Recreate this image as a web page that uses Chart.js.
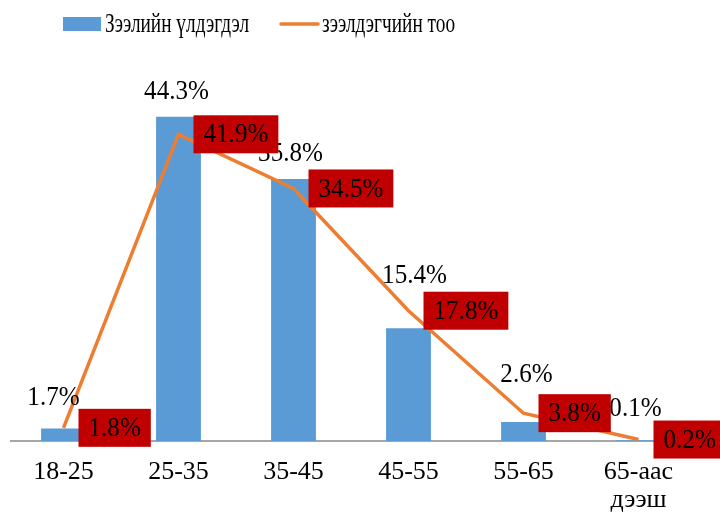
<!DOCTYPE html>
<html><head><meta charset="utf-8">
<script src="https://cdn.jsdelivr.net/npm/chart.js@4"></script>
<style>html,body{margin:0;padding:0;background:#fff;overflow:hidden}#wrap{width:720px;height:515px}</style>
</head><body><div id="wrap"><canvas id="c" width="720" height="515"></canvas></div>
<script>
const categories = ['18-25', '25-35', '35-45', '45-55', '55-65', ['65-аас', 'дээш']];
const loanBalance = [1.7, 44.3, 35.8, 15.4, 2.6, 0.1];
const borrowerCount = [1.8, 41.9, 34.5, 17.8, 3.8, 0.2];
const seriesNames = ['Зээлийн үлдэгдэл', 'зээлдэгчийн тоо'];

const FONT = "'Liberation Serif', 'Times New Roman', serif";
const BLUE = '#5B9BD5', ORANGE = '#ED7D31', RED = '#C00000';

// manual label nudges (like hand-placed Excel labels): [dx, lift above bar top]
const barLabelNudge = [[-10, 31], [-2, 25], [-3, 25], [6, 52], [3, 47], [-3, 31]];

function squeezeText(ctx, txt, x, y, sx) {
  ctx.save();
  ctx.translate(x, y);
  ctx.scale(sx, 1);
  ctx.fillText(txt, 0, 0);
  ctx.restore();
}

const labelsPlugin = {
  id: 'customLabels',
  beforeDatasetsDraw(chart) {
    // category axis baseline
    const ctx = chart.ctx;
    const y = chart.scales.y.getPixelForValue(0);
    ctx.save();
    ctx.strokeStyle = '#A6A6A6';
    ctx.lineWidth = 2;
    ctx.beginPath();
    ctx.moveTo(chart.chartArea.left + 4, y);
    ctx.lineTo(chart.width, y);
    ctx.stroke();
    ctx.restore();
  },
  afterDatasetsDraw(chart) {
    const ctx = chart.ctx;
    const SX = 0.93;
    ctx.save();
    ctx.font = '27px ' + FONT;
    ctx.textBaseline = 'middle';
    ctx.textAlign = 'center';
    ctx.fillStyle = '#000';
    const barMeta = chart.getDatasetMeta(0);
    barMeta.data.forEach((el, i) => {
      const n = barLabelNudge[i];
      squeezeText(ctx, chart.data.datasets[0].data[i].toFixed(1) + '%', el.x + n[0], el.y - n[1], SX);
    });
    const lineMeta = chart.getDatasetMeta(1);
    lineMeta.data.forEach((el, i) => {
      const txt = chart.data.datasets[1].data[i].toFixed(1) + '%';
      const w = ctx.measureText(txt).width * SX + 20;
      const h = 38;
      const x0 = el.x + 15;
      ctx.fillStyle = RED;
      ctx.fillRect(x0, el.y - h / 2, w, h);
      ctx.fillStyle = '#000';
      squeezeText(ctx, txt, x0 + w / 2, el.y + 1, SX);
    });
    ctx.restore();
  },
  afterDraw(chart) {
    // legend
    const ctx = chart.ctx;
    const SX = 0.715;
    ctx.save();
    ctx.font = '27px ' + FONT;
    ctx.textBaseline = 'middle';
    ctx.textAlign = 'left';
    let x = 63;
    const y = 24;
    chart.data.datasets.forEach((ds) => {
      if (ds.type === 'bar') {
        ctx.fillStyle = ds.backgroundColor;
        ctx.fillRect(x, y - 7, 38, 14);
      } else {
        ctx.strokeStyle = ds.borderColor;
        ctx.lineWidth = 3.5;
        ctx.lineCap = 'round';
        ctx.beginPath();
        ctx.moveTo(x + 1, y);
        ctx.lineTo(x + 38, y);
        ctx.stroke();
      }
      ctx.fillStyle = '#000';
      squeezeText(ctx, ds.label, x + 42, y + 1, SX);
      x += 42 + ctx.measureText(ds.label).width * SX + 31;
    });
    ctx.restore();
  }
};

new Chart(document.getElementById('c'), {
  data: {
    labels: categories,
    datasets: [
      { type: 'bar', label: seriesNames[0], data: loanBalance, backgroundColor: BLUE,
        barPercentage: 0.39, categoryPercentage: 1, order: 2 },
      { type: 'line', label: seriesNames[1], data: borrowerCount, borderColor: ORANGE,
        backgroundColor: ORANGE, borderWidth: 3.5, pointRadius: 0, tension: 0, order: 1 }
    ]
  },
  options: {
    responsive: false,
    animation: false,
    devicePixelRatio: 1,
    layout: { padding: { top: 75, left: 6, right: 24, bottom: 1 } },
    plugins: { legend: { display: false }, tooltip: { enabled: false } },
    scales: {
      x: {
        grid: { display: false, drawTicks: false },
        border: { display: false },
        ticks: { color: '#000', padding: 17, font: { family: FONT, size: 26, lineHeight: 1.08 }, maxRotation: 0, autoSkip: false },
        afterFit(scale) { scale.height = 73; }
      },
      y: { display: false, min: 0, max: 50 }
    }
  },
  plugins: [labelsPlugin]
});
</script>
</body></html>
